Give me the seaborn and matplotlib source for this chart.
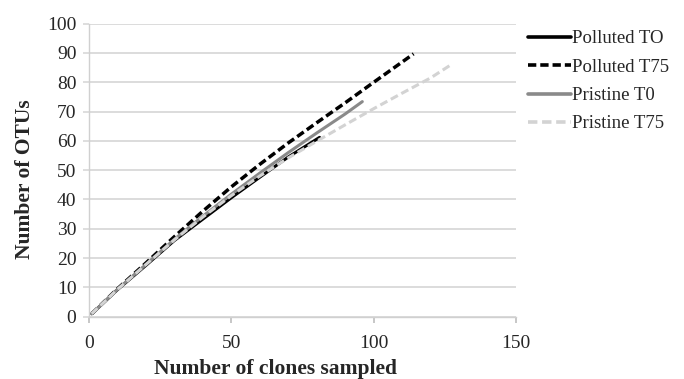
import matplotlib
matplotlib.use("Agg")
import matplotlib.pyplot as plt
import seaborn as sns
import pandas as pd

# ---- data ----
series_names = ["Polluted TO", "Polluted T75", "Pristine T0", "Pristine T75"]

pol_t0_x = [1, 10, 20, 30, 40, 50, 60, 70, 81]
pol_t0_y = [1, 9.2, 17.5, 26.0, 33.3, 40.6, 47.6, 54.5, 61.2]

pol_t75_x = [1, 10, 20, 30, 40, 50, 60, 70, 80, 90, 100, 114]
pol_t75_y = [1, 9.5, 18.3, 27.3, 36.0, 44.3, 52.0, 59.3, 66.2, 73.0, 80.0, 89.7]

pri_t0_x = [1, 10, 20, 30, 40, 50, 60, 70, 80, 90, 96]
pri_t0_y = [1, 9.3, 17.8, 26.4, 34.3, 41.8, 49.0, 56.0, 62.7, 69.2, 73.4]

pri_t75_x = [1, 10, 20, 30, 40, 50, 60, 70, 80, 90, 100, 110, 120, 127]
pri_t75_y = [1, 9.3, 17.8, 26.2, 34.0, 41.3, 48.0, 54.2, 59.9, 65.5, 71.0, 76.3, 81.5, 85.9]

x_ticks = [0, 50, 100, 150]
y_ticks = [0, 10, 20, 30, 40, 50, 60, 70, 80, 90, 100]

frames = []
for name, xs, ys in zip(series_names,
                        [pol_t0_x, pol_t75_x, pri_t0_x, pri_t75_x],
                        [pol_t0_y, pol_t75_y, pri_t0_y, pri_t75_y]):
    frames.append(pd.DataFrame({"clones": xs, "otus": ys, "series": name}))
df = pd.concat(frames, ignore_index=True)

sns.set_theme(style="white")
plt.rcParams["font.family"] = ["Liberation Serif", "DejaVu Serif"]

fig = plt.figure(figsize=(6.84, 3.79), dpi=100)
ax = fig.add_axes([0.130, 0.1644, 0.6245, 0.7731])

palette = {"Polluted TO": "#000000", "Polluted T75": "#000000",
           "Pristine T0": "#8a8a8a", "Pristine T75": "#d3d3d3"}
dashes = {"Polluted TO": "", "Polluted T75": (2.3, 1.1),
          "Pristine T0": "", "Pristine T75": (2.6, 1.3)}

sns.lineplot(data=df, x="clones", y="otus", hue="series", style="series",
             hue_order=series_names, style_order=series_names,
             palette=palette, dashes=dashes, sort=False, estimator=None,
             linewidth=2.2, ax=ax, legend=True)

for line, lw in zip(ax.lines[:4], [2.2, 2.5, 2.2, 2.2]):
    line.set_linewidth(lw)

ax.set_xlim(0, 150)
ax.set_ylim(0, 100)
ax.set_xticks(x_ticks)
ax.set_yticks(y_ticks)
ax.yaxis.grid(True, color="#d9d9d9", linewidth=1.3)
ax.set_axisbelow(True)
for s in ["top", "right"]:
    ax.spines[s].set_visible(False)
ax.spines["left"].set_color("#d0d0d0")
ax.spines["bottom"].set_color("#d0d0d0")
ax.spines["left"].set_linewidth(1.0)
ax.spines["bottom"].set_linewidth(1.0)
ax.tick_params(axis="x", which="both", bottom=True, length=4, color="#c0c0c0",
               labelsize=14, pad=9)
ax.tick_params(axis="y", which="both", left=True, length=4, color="#d9d9d9",
               labelsize=14, pad=5)

ax.set_xlabel("Number of clones sampled", fontsize=15.5, fontweight="bold")
ax.xaxis.set_label_coords(0.436, -0.143)
ax.set_ylabel("Number of OTUs", fontsize=15.5, fontweight="bold")
ax.yaxis.set_label_coords(-0.126, 0.47)

handles, labels = ax.get_legend_handles_labels()
leg = ax.legend(handles, labels, loc="upper left", bbox_to_anchor=(0.7606, 0.94),
                bbox_transform=fig.transFigure, frameon=False, fontsize=13.5,
                handlelength=2.3, handletextpad=0.05, labelspacing=0.6,
                borderaxespad=0)
for h in leg.get_lines():
    h.set_linewidth(2.6)

fig.savefig("out.png", dpi=100)
